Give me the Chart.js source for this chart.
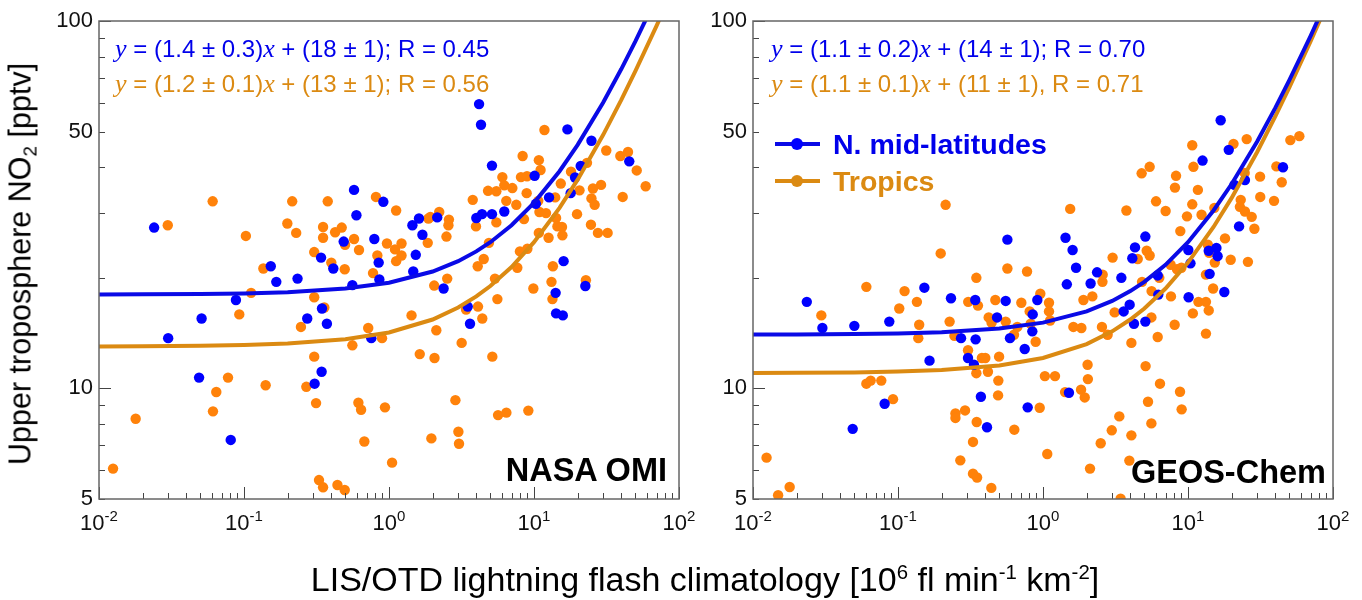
<!DOCTYPE html>
<html>
<head>
<meta charset="utf-8">
<script src="https://cdn.jsdelivr.net/npm/chart.js@4.4.0/dist/chart.umd.min.js"></script>
<style>
  body { margin: 0; background: #fff; width: 1362px; height: 600px; position: relative; overflow: hidden;
         font-family: "Liberation Sans", Arial, sans-serif; }
  canvas { position: absolute; top: 0; }
  #omiCanvas { left: 0; }
  #geosCanvas { left: 690px; }
  .eq { position: absolute; font-size: 24px; line-height: 24px; white-space: nowrap; }
  .eq i { font-family: "Liberation Serif", "Times New Roman", serif; font-size: 26px; }
  .blue { color: rgb(0, 0, 235); }
  .orange { color: #db8a12; }
  .panel { position: absolute; font-weight: bold; font-size: 32.5px; line-height: 32px; color: #000; white-space: nowrap; }
  .leg { position: absolute; left: 775px; height: 30px; line-height: 30px; font-size: 28.5px; font-weight: bold; white-space: nowrap; }
  .leg .ln { position: absolute; left: 0; top: 13px; width: 45px; height: 4px; }
  .leg .dot { position: absolute; left: 16px; top: 9px; width: 12px; height: 12px; border-radius: 6px; }
  .leg .txt { position: absolute; left: 58px; top: 0; }
  #ytitle { position: absolute; left: 22px; top: 264px; font-size: 30.5px; line-height: 30px; white-space: nowrap;
            transform: translate(-50%, -50%) rotate(-90deg); }
  #xtitle { position: absolute; left: 705px; top: 562px; font-size: 34px; line-height: 34px; white-space: nowrap;
            transform: translateX(-50%); }
  .sup { font-size: 0.6em; position: relative; top: -0.6em; }
  .sub { font-size: 0.62em; position: relative; top: 0.3em; }
</style>
</head>
<body>
<canvas id="omiCanvas" width="720" height="600"></canvas>
<canvas id="geosCanvas" width="672" height="600"></canvas>

<div class="eq blue" style="left:115px; top:37px;"><i>y</i> = (1.4 ± 0.3)<i>x</i> + (18 ± 1); R = 0.45</div>
<div class="eq orange" style="left:115px; top:72px;"><i>y</i> = (1.2 ± 0.1)<i>x</i> + (13 ± 1); R = 0.56</div>
<div class="eq blue" style="left:771px; top:37px;"><i>y</i> = (1.1 ± 0.2)<i>x</i> + (14 ± 1); R = 0.70</div>
<div class="eq orange" style="left:771px; top:72px;"><i>y</i> = (1.1 ± 0.1)<i>x</i> + (11 ± 1), R = 0.71</div>

<div class="leg blue" style="top:129px;"><span class="ln" style="background:rgb(10,10,230)"></span><span class="dot" style="background:rgb(0,0,255)"></span><span class="txt">N. mid-latitudes</span></div>
<div class="leg orange" style="top:166px;"><span class="ln" style="background:#db8a12"></span><span class="dot" style="background:#db8a12"></span><span class="txt">Tropics</span></div>

<div class="panel" style="right:695px; top:454px;">NASA OMI</div>
<div class="panel" style="right:36px; top:456px;">GEOS-Chem</div>

<div id="ytitle">Upper troposphere NO<span class="sub">2</span> [pptv]</div>
<div id="xtitle">LIS/OTD lightning flash climatology [10<span class="sup">6</span> fl min<span class="sup">-1</span> km<span class="sup">-2</span>]</div>

<script>
// NASA OMI panel, N. mid-latitudes
const omiMidX = [0.024, 0.030, 0.051, 0.049, 0.088, 0.081, 0.153, 0.167, 0.234, 0.273, 0.307, 0.343, 0.345, 0.373, 0.340,
  0.413, 0.487, 0.574, 0.596, 0.559, 0.755, 0.792, 0.849, 0.858, 0.914,
  4.18, 4.31, 5.13, 17.0, 24.9, 45.4, 10.1, 21.0, 19.2, 17.9, 12.7, 10.3, 6.24, 5.13, 4.38, 4.0, 2.15, 1.61, 1.45,
  1.70, 1.53, 1.47, 2.38, 16.0, 14.1, 22.6, 14.2, 15.8, 3.49, 3.62];
const omiMidY = [27.4, 13.7, 15.5, 10.7, 17.4, 7.24, 21.5, 19.5, 19.9, 15.5, 10.3, 11.1, 16.5, 15.0, 22.7,
  21.2, 25.1, 34.7, 29.6, 19.1, 13.7, 25.5, 22.0, 19.8, 32.2,
  59.4, 52.2, 40.4, 50.7, 47.2, 41.5, 37.9, 40.3, 37.5, 34.0, 33.1, 31.8, 30.3, 29.8, 29.8, 29.1, 29.2, 29.0, 27.8,
  26.2, 23.1, 20.8, 18.7, 22.2, 18.2, 19.0, 16.0, 15.8, 16.7, 15.0];

// NASA OMI panel, Tropics
const omiTropX = [0.0125, 0.0179, 0.0298, 0.0608, 0.0611, 0.0644, 0.0776, 0.0928, 0.103, 0.112, 0.136, 0.141, 0.199,
  0.215, 0.229, 0.247, 0.269, 0.305, 0.305, 0.305, 0.314, 0.329, 0.351, 0.351, 0.351, 0.378, 0.358, 0.400, 0.425,
  0.472, 0.498, 0.495, 0.441, 0.495, 0.574, 0.621, 0.615, 0.642, 0.676, 0.559, 0.719, 0.776, 0.813, 0.831, 0.895,
  0.938, 0.968, 1.05,
  11.8, 8.35, 10.8, 11.1, 6.05, 8.13, 8.95, 6.24, 7.09, 4.82, 5.50, 8.90, 3.78, 6.44, 7.55, 2.22, 2.59, 2.57, 1.87,
  1.93, 1.12, 2.49, 1.85, 3.98, 5.50, 8.53, 10.7, 10.9, 12.1, 14.2, 15.3, 18.0, 20.6, 23.2, 31.5, 39.4, 44.5, 51.1,
  58.9, 29.0, 25.5, 24.9, 26.2, 40.9, 19.8, 14.0, 14.5, 15.6, 15.7, 12.6, 10.8, 24.7, 27.6, 32.2, 13.5, 13.2, 13.4,
  22.8, 9.9, 9.0, 8.0, 7.67, 5.59, 5.38, 4.89, 4.50, 4.09, 4.11, 4.40, 3.17, 3.40, 2.52, 2.05, 2.12, 1.43, 1.63,
  2.06, 5.16, 2.87, 5.65, 6.45, 9.14, 1.96, 3.01, 3.04, 1.22, 1.10, 1.22, 1.12];
const omiTropY = [6.05, 8.27, 27.8, 32.3, 8.66, 9.78, 10.7, 15.9, 26.0, 18.2, 21.2, 10.2, 28.1,
  32.3, 26.5, 14.7, 10.1, 23.5, 17.7, 12.2, 9.12, 5.63, 5.38, 27.5, 25.7, 32.3, 16.6, 22.0, 26.6,
  27.4, 24.6, 21.1, 5.46, 5.29, 25.5, 23.8, 9.14, 8.75, 7.17, 13.1, 14.6, 20.6, 33.2, 23.0, 13.7,
  8.88, 24.8, 6.28,
  50.5, 42.9, 41.8, 39.3, 37.6, 37.6, 37.8, 35.7, 35.1, 34.5, 34.4, 34.0, 32.6, 32.4, 31.6, 30.2, 28.8, 27.8, 29.0,
  29.3, 30.5, 25.9, 24.9, 27.6, 28.3, 28.9, 32.4, 30.2, 30.0, 29.1, 36.1, 38.9, 34.6, 41.1, 44.4, 42.9, 44.0, 39.2,
  35.5, 35.8, 35.0, 32.9, 31.6, 33.2, 29.8, 33.1, 27.6, 27.5, 26.1, 25.7, 26.5, 27.9, 26.5, 26.5, 21.5, 19.5, 17.5,
  19.7, 18.7, 24.0, 23.6, 21.3, 17.5, 19.9, 24.9, 22.5, 21.5, 16.7, 15.5, 13.3, 16.4, 19.9, 19.05, 14.4, 15.8, 12.4,
  12.1, 12.2, 9.29, 8.46, 8.59, 8.70, 7.31, 7.62, 7.07, 24.8, 23.9, 23.0, 22.2];

// GEOS-Chem panel, N. mid-latitudes
const geosMidX = [0.0235, 0.0301, 0.050, 0.0871, 0.0487, 0.0809, 0.152, 0.165, 0.232, 0.272, 0.304, 0.334, 0.343,
  0.341, 0.373, 0.411, 0.482, 0.553, 0.568, 0.592, 0.748, 0.784, 0.849, 0.844, 0.914,
  16.8, 19.1, 12.6, 45.2, 24.7, 20.9, 22.5, 1.43, 1.60, 1.69, 1.46, 2.13, 2.36, 3.47, 4.31, 4.13, 5.08, 6.18, 6.24,
  3.96, 3.60, 4.24, 5.08, 10.05, 10.4, 10.1, 13.9, 15.7, 16.0, 14.1, 17.8, 1.51];
const geosMidY = [17.2, 14.6, 14.8, 15.2, 7.76, 9.08, 18.8, 11.9, 17.6, 13.7, 12.1, 11.6, 13.6,
  17.4, 9.49, 7.84, 15.6, 17.3, 25.4, 13.7, 12.8, 8.88, 15.9, 14.3, 17.4,
  53.7, 44.6, 41.7, 40.0, 36.9, 35.8, 27.6, 25.7, 23.8, 21.3, 19.2, 19.3, 20.7, 20.0, 24.2, 22.6, 25.9, 20.3, 18.0,
  16.9, 16.2, 15.0, 15.2, 23.8, 21.9, 17.7, 23.7, 24.1, 22.9, 20.5, 18.3, 9.73];

// GEOS-Chem panel, Tropics
const geosTropX = [0.0124, 0.0149, 0.0179, 0.0296, 0.0605, 0.0605, 0.0648, 0.0767, 0.0924, 0.102, 0.111, 0.135, 0.140,
  0.138, 0.197, 0.213, 0.227, 0.245, 0.249, 0.249, 0.290, 0.269, 0.304, 0.305, 0.329, 0.329, 0.351, 0.347, 0.356,
  0.349, 0.347, 0.379, 0.400, 0.417, 0.422, 0.442, 0.440, 0.469, 0.492, 0.490, 0.498, 0.553, 0.568, 0.631, 0.634,
  0.665, 0.709, 0.776, 0.809, 0.822, 0.890, 0.958, 0.949,
  10.7, 20.6, 25.4, 50.8, 58.6, 4.79, 5.44, 10.9, 8.27, 8.13, 11.7, 40.7, 31.4, 44.3, 24.6, 1.54, 3.76, 6.02, 7.01,
  10.7, 9.84, 12.4, 15.2, 23.1, 22.8, 24.7, 27.5, 31.5, 39.2, 28.7, 8.85, 18.0, 5.19, 5.44, 3.02, 4.50, 7.59, 8.40,
  9.0, 13.7, 14.0, 15.3, 19.7, 25.9, 13.3, 14.9, 11.8, 13.3, 13.9, 10.8, 13.3, 7.63, 8.09, 5.61, 6.18, 5.59, 6.34,
  4.82, 2.57, 2.58, 2.19, 1.90, 3.12, 2.55, 1.84, 1.62, 2.79, 4.07, 5.10, 6.41, 2.03, 2.04, 1.83, 1.94, 1.21, 1.03,
  1.42, 8.81, 9.04, 5.30, 5.59, 3.36, 2.98, 4.07, 2.50, 1.07, 2.11, 3.94, 3.43, 1.10, 1.10, 1.12];
const geosTropY = [6.48, 5.12, 5.39, 15.8, 18.9, 10.3, 10.5, 10.5, 9.35, 16.5, 18.4, 17.2, 14.9,
  13.7, 23.3, 31.6, 15.2, 13.9, 8.55, 8.31, 8.71, 6.37, 12.7, 17.2, 7.15, 5.86, 5.72, 20.0, 16.8,
  8.10, 11.0, 12.1, 12.1, 11.1, 15.6, 15.1, 5.36, 17.4, 10.5, 9.57, 12.2, 15.2, 21.2, 14.0, 7.72,
  14.7, 17.1, 20.8, 16.2, 15.0, 13.4, 18.1, 8.86,
  45.9, 46.3, 47.7, 47.4, 48.6, 38.5, 40.1, 40.1, 37.9, 35.2, 34.7, 40.2, 37.7, 36.4, 38.6, 30.8, 30.5, 32.3, 30.4,
  31.7, 29.4, 29.7, 31.0, 32.6, 31.2, 30.3, 29.3, 33.2, 32.4, 27.2, 26.8, 25.6, 23.7, 23.0, 22.7, 22.5, 21.7, 21.1,
  21.3, 24.6, 23.4, 22.0, 22.4, 22.1, 20.4, 18.7, 17.2, 17.2, 16.3, 16.0, 14.1, 17.8, 14.9, 18.4, 13.8, 15.6, 20.0,
  19.5, 19.5, 20.4, 17.8, 17.4, 16.1, 14.7, 14.6, 14.7, 14.0, 13.3, 11.5, 10.3, 11.6, 10.6, 9.92, 9.45, 10.8, 10.8,
  9.77, 9.79, 8.77, 9.2, 8.03, 8.39, 7.69, 7.45, 7.09, 6.63, 6.05, 6.36, 5.01, 17.1, 16.2, 15.3];

// fitted lines y = a*x + b, [mid-latitudes, tropics]
const omiSlope = [1.4, 1.2];
const omiIntercept = [18, 13];
const geosSlope = [1.1, 1.1];
const geosIntercept = [14, 11];
const fitX = [0.01, 0.02, 0.05, 0.1, 0.2, 0.5, 1, 2, 3, 4, 5, 7, 10, 15, 20, 30, 40, 50, 70, 100];

// axis ticks
const xMajor = [0.01, 0.1, 1, 10, 100];
const xExponent = ['-2', '-1', '0', '1', '2'];
const xMinor = [0.02, 0.03, 0.04, 0.05, 0.06, 0.07, 0.08, 0.09, 0.2, 0.3, 0.4, 0.5, 0.6, 0.7, 0.8, 0.9,
  2, 3, 4, 5, 6, 7, 8, 9, 20, 30, 40, 50, 60, 70, 80, 90];
const yMajor = [10, 100];
const yMinor = [5, 6, 7, 8, 9, 20, 30, 40, 50, 60, 70, 80, 90];
const yLabels = [5, 10, 50, 100];

const BLUE = 'rgb(0,0,255)';
const BLUE_LINE = 'rgb(10,10,230)';
const ORANGE = 'rgb(255,130,10)';
const ORANGE_LINE = '#db8a12';

const frameTicks = {
  id: 'frameTicks',
  afterDraw(chart) {
    const ctx = chart.ctx;
    const a = chart.chartArea;
    const xs = chart.scales.x, ys = chart.scales.y;
    ctx.save();
    ctx.strokeStyle = '#444';
    ctx.lineWidth = 1;
    ctx.beginPath();
    xMinor.forEach(v => { const p = Math.round(xs.getPixelForValue(v)) + 0.5; ctx.moveTo(p, a.bottom); ctx.lineTo(p, a.bottom - 6); });
    xMajor.forEach(v => { const p = Math.round(xs.getPixelForValue(v)) + 0.5; ctx.moveTo(p, a.bottom); ctx.lineTo(p, a.bottom - 12); });
    yMinor.forEach(v => { const p = Math.round(ys.getPixelForValue(v)) + 0.5; ctx.moveTo(a.left, p); ctx.lineTo(a.left + 6, p); });
    yMajor.forEach(v => { const p = Math.round(ys.getPixelForValue(v)) + 0.5; ctx.moveTo(a.left, p); ctx.lineTo(a.left + 12, p); });
    ctx.stroke();
    ctx.strokeStyle = '#666';
    ctx.lineWidth = 1.5;
    ctx.strokeRect(a.left, a.top, a.right - a.left, a.bottom - a.top);

    ctx.fillStyle = '#111';
    ctx.font = '22px "Liberation Sans", Arial, sans-serif';
    ctx.textAlign = 'right';
    ctx.textBaseline = 'middle';
    yLabels.forEach(v => ctx.fillText(String(v), a.left - 6, ys.getPixelForValue(v)));

    ctx.textAlign = 'left';
    ctx.textBaseline = 'alphabetic';
    xMajor.forEach((v, i) => {
      const p = xs.getPixelForValue(v);
      ctx.font = '22px "Liberation Sans", Arial, sans-serif';
      const wBase = ctx.measureText('10').width;
      ctx.font = '15px "Liberation Sans", Arial, sans-serif';
      const wExp = ctx.measureText(xExponent[i]).width;
      const start = p - (wBase + wExp) / 2;
      ctx.font = '22px "Liberation Sans", Arial, sans-serif';
      ctx.fillText('10', start, a.bottom + 31);
      ctx.font = '15px "Liberation Sans", Arial, sans-serif';
      ctx.fillText(xExponent[i], start + wBase, a.bottom + 22);
    });
    ctx.restore();
  }
};

function points(xs, ys) {
  return xs.map((x, i) => ({x: x, y: ys[i]}));
}

function fitLine(slope, intercept) {
  return fitX.map(x => ({x: x, y: slope * x + intercept}));
}

function makePanel(id, pad, midX, midY, tropX, tropY, slope, intercept) {
  return new Chart(document.getElementById(id), {
    type: 'scatter',
    data: {
      datasets: [
        {type: 'line', data: fitLine(slope[0], intercept[0]), borderColor: BLUE_LINE, borderWidth: 4,
         pointRadius: 0, fill: false, tension: 0, order: 0, clip: 0},
        {type: 'line', data: fitLine(slope[1], intercept[1]), borderColor: ORANGE_LINE, borderWidth: 4,
         pointRadius: 0, fill: false, tension: 0, order: 0, clip: 0},
        {data: points(midX, midY), backgroundColor: BLUE, borderWidth: 0, pointRadius: 5.2, order: 1},
        {data: points(tropX, tropY), backgroundColor: ORANGE, borderWidth: 0, pointRadius: 5.2, order: 2}
      ]
    },
    options: {
      responsive: false,
      animation: false,
      layout: {padding: pad},
      plugins: {legend: {display: false}, tooltip: {enabled: false}},
      scales: {
        x: {type: 'logarithmic', min: 0.01, max: 100, display: false},
        y: {type: 'logarithmic', min: 5, max: 100, display: false}
      }
    },
    plugins: [frameTicks]
  });
}

makePanel('omiCanvas', {left: 99, right: 41, top: 21, bottom: 101},
  omiMidX, omiMidY, omiTropX, omiTropY, omiSlope, omiIntercept);
makePanel('geosCanvas', {left: 63, right: 29, top: 21, bottom: 101},
  geosMidX, geosMidY, geosTropX, geosTropY, geosSlope, geosIntercept);
</script>
</body>
</html>
